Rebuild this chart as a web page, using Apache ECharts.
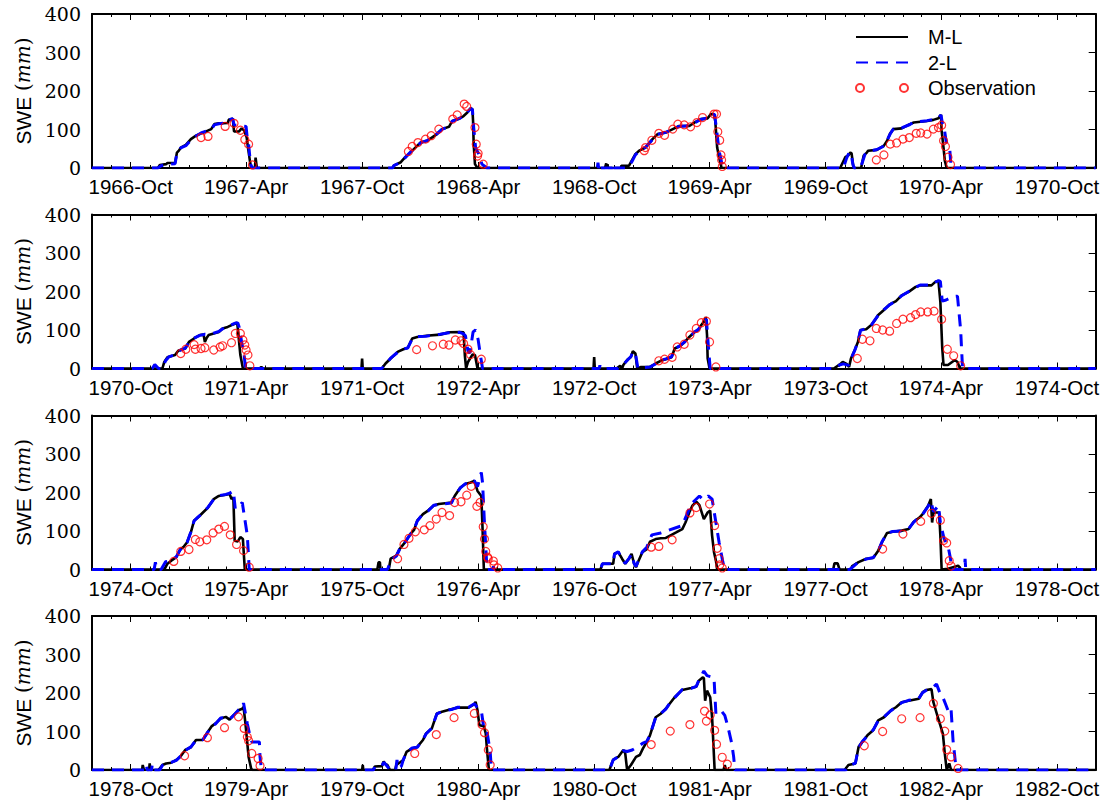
<!DOCTYPE html>
<html>
<head>
<meta charset="utf-8">
<script src="https://cdn.jsdelivr.net/npm/echarts@6/dist/echarts.min.js"></script>
<style>
  html, body { margin: 0; padding: 0; background: #fff; }
  #chart { width: 1106px; height: 803px; }
</style>
</head>
<body>
<div id="chart"></div>
<script>
// Snow water equivalent (mm), one water year per block.
// Each pair is [days after 1 October, SWE].

// --- 1966-67 ---
const ml1967 = [[43,0],[46,8],[56,10],[58,13],[70,13],[73,40],[76,45],[79,53],[87,60],[95,75],[103,84],[111,90],[119,95],[127,101],[132,114],[139,116],[153,117],[155,126],[161,128],[163,95],[171,95],[175,103],[179,97],[183,79],[185,53],[188,19],[190,0],[196,0],[197,27],[199,0]];
const tl1967 = [[43,0],[48,6],[56,9],[70,11],[72,30],[75,44],[79,52],[87,58],[95,73],[103,83],[111,91],[119,96],[127,100],[132,112],[139,115],[153,118],[155,125],[161,128],[163,112],[182,108],[184,75],[186,62],[189,10],[192,0]];
const obs1967 = [[111,79],[122,82],[149,108],[163,116],[173,98],[180,74],[186,62],[192,8]];

// --- 1967-68 ---
const ml1968 = [[48,0],[50,6],[61,15],[68,28],[76,40],[84,53],[92,66],[103,71],[110,79],[118,88],[126,101],[137,107],[142,122],[152,127],[160,135],[166,144],[171,155],[174,153],[175,122],[176,62],[178,10],[182,0]];
const tl1968 = [[48,0],[50,6],[61,15],[68,27],[76,41],[84,52],[92,65],[103,72],[110,78],[118,89],[126,100],[137,108],[142,121],[152,128],[160,134],[166,145],[171,154],[174,152],[176,105],[179,53],[184,36],[189,10],[197,0]];
const obs1968 = [[73,43],[79,56],[88,66],[100,75],[109,84],[121,101],[143,127],[150,138],[161,166],[165,160],[178,105],[180,62],[182,31],[183,38],[191,10]];

// --- 1968-69 ---
const ml1969 = [[17,0],[19,12],[20,0],[21,10],[22,0],[42,0],[43,6],[55,6],[58,15],[65,36],[71,45],[81,53],[92,75],[100,88],[113,92],[124,101],[134,109],[150,109],[158,118],[168,127],[179,129],[184,140],[189,140],[191,122],[194,53],[197,28],[201,0]];
const tl1969 = [[5,0],[6,14],[7,0],[9,12],[10,0],[29,0],[30,12],[31,0],[50,0],[56,8],[60,18],[65,34],[71,44],[81,54],[92,74],[100,87],[113,93],[124,100],[134,108],[150,110],[158,117],[168,126],[179,130],[184,139],[190,139],[193,100],[197,45],[203,0]];
const obs1969 = [[79,45],[81,53],[91,72],[102,90],[111,85],[124,101],[132,114],[142,112],[152,107],[162,118],[171,131],[189,140],[193,140],[195,94],[198,72],[200,34],[201,21],[202,4]];

// --- 1969-70 ---
const ml1970 = [[23,0],[31,28],[36,33],[39,40],[41,38],[44,0],[56,0],[60,32],[65,40],[67,45],[81,47],[92,58],[97,71],[102,90],[107,101],[120,103],[133,114],[139,118],[160,122],[170,125],[178,129],[182,138],[183,97],[186,53],[188,19],[191,0]];
const tl1970 = [[28,0],[33,25],[37,40],[40,40],[43,10],[45,0],[55,0],[58,15],[62,35],[66,42],[81,48],[92,57],[97,72],[102,89],[107,102],[120,104],[133,113],[139,119],[160,123],[170,126],[178,130],[182,138],[184,118],[187,105],[190,70],[196,45],[198,0]];
const obs1970 = [[80,21],[92,34],[102,62],[112,65],[122,75],[132,79],[143,90],[150,91],[160,88],[170,101],[178,105],[183,111],[186,71],[189,56],[193,28],[197,9]];

// --- 1970-71 ---
const ml1971 = [[50,0],[53,17],[58,29],[70,35],[75,46],[86,52],[92,69],[100,78],[109,87],[115,88],[117,69],[120,80],[123,87],[131,91],[139,95],[145,104],[153,108],[165,117],[168,119],[170,87],[173,35],[177,0],[203,0],[206,4],[209,0]];
const tl1971 = [[34,0],[38,10],[41,5],[44,0],[50,0],[55,20],[60,30],[70,36],[75,45],[86,53],[92,68],[100,79],[109,86],[117,89],[123,88],[131,92],[139,96],[145,103],[153,109],[165,118],[169,118],[171,108],[175,69],[179,35],[181,0]];
const obs1971 = [[79,39],[87,50],[100,62],[102,50],[111,52],[117,54],[131,48],[141,56],[145,59],[159,67],[165,91],[173,91],[177,74],[180,61],[182,48],[185,35],[188,7]];

// --- 1971-72 ---
const ml1972 = [[-1,0],[0,26],[1,0],[31,0],[37,13],[45,26],[56,43],[65,50],[72,54],[79,78],[87,82],[101,85],[123,88],[137,94],[154,95],[160,94],[162,35],[164,0],[167,17],[174,36],[178,35],[182,0]];
const tl1972 = [[31,0],[38,12],[45,27],[56,42],[65,51],[72,53],[79,77],[87,83],[101,84],[123,89],[137,93],[154,94],[160,90],[163,85],[167,45],[170,40],[175,95],[179,100],[183,75],[187,30],[190,0]];
const obs1972 = [[86,49],[111,59],[128,63],[137,61],[147,74],[156,72],[160,65],[167,50],[171,36],[188,24]];

// --- 1972-73 ---
const ml1973 = [[-1,0],[0,30],[1,0],[35,0],[41,7],[44,0],[46,9],[52,22],[58,30],[61,45],[65,39],[68,0],[74,4],[88,4],[97,13],[105,20],[113,24],[122,29],[127,52],[136,59],[143,69],[150,82],[158,94],[164,100],[169,113],[175,126],[176,134],[178,87],[179,26],[182,0]];
const tl1973 = [[8,0],[9,8],[10,0],[37,0],[42,6],[46,10],[52,21],[58,31],[61,44],[65,40],[69,0],[88,4],[97,12],[105,21],[113,25],[122,30],[127,51],[136,60],[143,70],[150,81],[158,95],[164,101],[169,112],[175,125],[177,128],[180,60],[183,0]];
const obs1973 = [[102,20],[111,24],[123,29],[131,56],[142,63],[151,87],[161,104],[169,119],[177,123],[182,69],[192,4]];

// --- 1973-74 ---
const ml1974 = [[13,0],[22,10],[27,17],[33,12],[37,4],[40,26],[46,48],[51,69],[55,100],[64,102],[72,113],[78,126],[83,139],[92,152],[100,165],[111,175],[120,190],[131,199],[142,212],[150,216],[167,216],[173,225],[178,227],[181,173],[184,52],[186,9],[193,9],[204,22],[208,17],[212,0]];
const tl1974 = [[15,0],[22,9],[28,12],[36,8],[40,24],[46,47],[51,70],[55,99],[64,103],[72,112],[78,127],[83,138],[92,153],[100,164],[111,176],[120,189],[131,200],[142,211],[150,217],[167,217],[173,224],[178,228],[181,226],[184,175],[190,178],[201,187],[208,188],[213,100],[216,0]];
const obs1974 = [[50,26],[58,76],[70,72],[80,104],[90,100],[101,97],[112,117],[122,128],[134,132],[142,140],[150,147],[161,147],[171,149],[183,128],[192,50],[202,33],[213,7]];

// --- 1974-75 ---
const ml1975 = [[53,0],[58,15],[64,23],[72,32],[78,52],[83,58],[89,71],[95,97],[100,127],[106,135],[114,148],[122,161],[131,183],[139,191],[150,194],[156,196],[159,183],[162,187],[164,75],[169,73],[173,84],[177,79],[180,0]];
const tl1975 = [[37,0],[39,19],[41,0],[48,0],[55,20],[64,24],[72,33],[78,51],[83,59],[89,70],[95,98],[100,126],[106,136],[114,147],[122,162],[131,182],[139,192],[150,195],[156,198],[162,204],[165,157],[176,174],[184,88],[187,0]];
const obs1975 = [[68,21],[79,47],[92,52],[102,78],[109,72],[120,77],[130,95],[139,105],[148,112],[157,90],[167,65],[178,49],[187,6]];

// --- 1975-76 ---
const ml1976 = [[24,0],[26,19],[28,19],[29,0],[42,0],[45,28],[54,36],[59,53],[68,71],[76,92],[82,103],[87,127],[96,144],[104,153],[113,166],[121,170],[141,174],[146,191],[155,213],[163,222],[171,226],[177,230],[182,204],[188,191],[190,105],[192,0]];
const tl1976 = [[40,0],[46,25],[54,35],[59,52],[68,72],[76,91],[82,104],[87,126],[96,145],[104,152],[113,167],[121,169],[141,173],[146,192],[155,212],[163,223],[171,225],[177,231],[182,215],[186,240],[188,252],[190,225],[193,120],[197,0],[206,0],[207,8],[208,0]];
const obs1976 = [[56,28],[66,65],[74,81],[84,98],[98,103],[107,114],[117,131],[126,148],[138,140],[146,174],[156,176],[165,193],[172,216],[181,164],[186,174],[191,111],[193,79],[195,47],[198,32],[199,28],[207,22],[208,12],[214,4]];

// --- 1976-77 ---
const ml1977 = [[10,0],[13,15],[30,15],[32,41],[38,45],[44,28],[49,15],[55,28],[59,41],[63,15],[66,6],[69,19],[76,45],[83,53],[88,72],[97,79],[105,81],[113,82],[122,90],[130,97],[139,105],[144,122],[150,148],[155,166],[161,176],[166,167],[173,131],[179,148],[183,153],[186,88],[189,45],[192,23],[194,0]];
const tl1977 = [[10,0],[13,15],[30,15],[32,40],[38,46],[44,27],[49,16],[55,29],[59,40],[63,16],[66,8],[69,20],[76,46],[83,58],[91,90],[105,95],[130,109],[139,114],[153,170],[166,191],[172,181],[180,191],[186,183],[192,122],[197,71],[203,19],[206,0]];
const obs1977 = [[90,58],[102,60],[123,77],[151,147],[161,161],[182,170],[190,114],[194,55],[197,28],[198,12],[202,4]];

// --- 1977-78 ---
const ml1978 = [[12,0],[14,16],[19,16],[22,0],[40,0],[42,9],[52,19],[64,28],[75,30],[83,49],[89,71],[97,95],[106,98],[120,101],[131,105],[139,124],[148,135],[153,144],[162,166],[166,183],[168,122],[170,148],[179,148],[181,88],[183,0],[193,2],[209,10],[214,0]];
const tl1978 = [[38,0],[44,8],[52,20],[64,27],[75,31],[83,48],[89,72],[97,94],[106,99],[120,100],[131,106],[139,123],[148,136],[153,143],[162,165],[166,178],[170,150],[178,166],[181,122],[187,79],[193,62],[197,28],[199,0],[219,0],[220,28],[221,0]];
const obs1978 = [[90,53],[122,92],[150,125],[167,146],[181,128],[186,75],[191,69],[195,23],[198,9]];

// --- 1978-79 ---
const ml1979 = [[18,0],[19,13],[21,0],[29,0],[30,17],[31,0],[44,0],[50,13],[56,17],[64,19],[72,26],[78,34],[86,52],[95,59],[103,78],[114,78],[120,95],[128,114],[134,121],[142,134],[150,138],[156,131],[162,142],[170,155],[176,159],[178,164],[181,121],[186,34],[190,4],[192,0]];
const tl1979 = [[24,0],[25,12],[26,0],[33,0],[34,14],[35,0],[46,0],[50,12],[56,18],[64,20],[72,25],[78,35],[86,51],[95,60],[103,77],[114,79],[120,94],[128,115],[134,120],[142,135],[150,137],[156,132],[162,141],[170,156],[176,160],[178,174],[184,120],[188,90],[191,73],[203,73],[204,34],[206,4],[207,0]];
const obs1979 = [[85,37],[121,84],[148,110],[170,138],[179,108],[184,86],[186,76],[191,43],[201,30],[204,11]];

// --- 1979-80 ---
const ml1980 = [[0,0],[1,13],[2,0],[17,0],[20,9],[31,10],[34,22],[37,15],[40,13],[44,0],[52,0],[54,13],[60,20],[65,26],[70,47],[79,56],[87,60],[96,78],[101,95],[110,108],[118,147],[126,151],[143,159],[151,162],[168,162],[177,171],[179,177],[182,155],[185,116],[192,114],[195,95],[197,52],[200,0]];
const tl1980 = [[18,0],[20,8],[31,9],[34,20],[38,13],[44,0],[53,0],[55,26],[57,5],[62,10],[65,27],[70,46],[79,57],[87,59],[96,79],[101,94],[110,109],[118,146],[126,152],[143,158],[151,163],[168,163],[177,172],[181,164],[188,155],[192,108],[197,100],[202,47],[204,0]];
const obs1980 = [[83,43],[117,92],[145,136],[177,147],[189,118],[193,97],[199,52],[202,13]];

// --- 1980-81 ---
const ml1981 = [[24,0],[30,27],[38,34],[46,52],[49,43],[52,0],[58,13],[66,34],[72,39],[77,56],[83,73],[88,90],[97,137],[105,146],[113,159],[119,172],[127,189],[139,208],[153,213],[161,216],[165,232],[171,240],[173,239],[175,180],[178,206],[183,189],[186,137],[190,0],[204,0],[206,13],[208,0]];
const tl1981 = [[24,0],[30,26],[38,35],[46,50],[52,48],[60,52],[70,62],[77,70],[83,74],[88,91],[97,136],[105,147],[113,158],[119,173],[127,188],[139,209],[153,212],[161,217],[165,233],[173,257],[178,245],[189,240],[192,146],[200,155],[206,142],[211,112],[217,69],[220,34],[222,0]];
const obs1981 = [[90,66],[120,101],[151,118],[174,153],[177,127],[183,143],[190,103],[193,67],[202,33],[210,15]];

// --- 1981-82 ---
const ml1982 = [[30,0],[36,13],[47,17],[52,60],[58,73],[66,90],[75,103],[83,129],[92,137],[103,155],[111,163],[120,176],[131,180],[147,185],[153,202],[159,208],[167,210],[170,176],[177,137],[181,116],[185,94],[188,43],[191,0],[195,17],[198,0]];
const tl1982 = [[32,0],[38,12],[47,18],[52,58],[58,74],[66,89],[75,104],[83,128],[92,138],[103,154],[111,164],[120,175],[131,181],[147,186],[153,201],[159,207],[167,211],[175,223],[181,197],[184,193],[189,172],[195,146],[198,155],[201,77],[206,0]];
const obs1982 = [[61,63],[90,100],[120,133],[149,136],[170,173],[181,133],[188,101],[191,53],[198,34],[209,4]];

// Water years in drawing order, four per row.
const waterYears = [1967,1968,1969,1970,1971,1972,1973,1974,1975,1976,1977,1978,1979,1980,1981,1982];
const mlByYear  = [ml1967,ml1968,ml1969,ml1970,ml1971,ml1972,ml1973,ml1974,ml1975,ml1976,ml1977,ml1978,ml1979,ml1980,ml1981,ml1982];
const tlByYear  = [tl1967,tl1968,tl1969,tl1970,tl1971,tl1972,tl1973,tl1974,tl1975,tl1976,tl1977,tl1978,tl1979,tl1980,tl1981,tl1982];
const obsByYear = [obs1967,obs1968,obs1969,obs1970,obs1971,obs1972,obs1973,obs1974,obs1975,obs1976,obs1977,obs1978,obs1979,obs1980,obs1981,obs1982];

const yTicks = [0, 100, 200, 300, 400];
const monthNames = ['Jan','Feb','Mar','Apr','May','Jun','Jul','Aug','Sep','Oct','Nov','Dec'];

// Day numbers counted from 1 Oct 1966.
const DAY = 86400000;
const EPOCH = Date.UTC(1966, 9, 1);
const dayNum = (y, m, d) => Math.round((Date.UTC(y, m - 1, d) - EPOCH) / DAY);
const dayLabel = v => {
  const dt = new Date(EPOCH + Math.round(v) * DAY);
  return dt.getUTCFullYear() + '-' + monthNames[dt.getUTCMonth()];
};

const panelTops = [14, 214.5, 415.5, 616];
const PANEL_H = 154;

const grids = [], xAxes = [], yAxes = [], series = [];

panelTops.forEach((top, p) => {
  const y0 = 1966 + 4 * p;
  const xmin = dayNum(y0, 8, 1);
  const xmax = dayNum(y0 + 4, 12, 1);

  const monthTicks = [];
  for (let y = y0, m = 8; dayNum(y, m, 1) <= xmax; ) {
    monthTicks.push(dayNum(y, m, 1));
    m++; if (m > 12) { m = 1; y++; }
  }
  const halfYearTicks = monthTicks.filter(v => {
    const mo = new Date(EPOCH + v * DAY).getUTCMonth();
    return mo === 9 || mo === 3;
  });

  grids.push({ left: 92, right: 10.3, top: top, height: PANEL_H });

  const baseX = {
    type: 'value', gridIndex: p, min: xmin, max: xmax,
    splitLine: { show: false }
  };
  // bottom: frame line, monthly ticks and labels
  xAxes.push(Object.assign({}, baseX, {
    position: 'bottom',
    axisLine: { show: true, onZero: false, lineStyle: { color: '#000', width: 2 } },
    axisTick: { show: true, inside: true, length: 3, customValues: monthTicks, lineStyle: { color: '#000', width: 1 } },
    axisLabel: { show: true, customValues: halfYearTicks, formatter: dayLabel, margin: 8,
                 fontFamily: 'Liberation Sans', fontSize: 20.5, color: '#000' }
  }));
  // bottom: longer half-year ticks
  xAxes.push(Object.assign({}, baseX, {
    position: 'bottom',
    axisLine: { show: false, onZero: false },
    axisTick: { show: true, inside: true, length: 6, customValues: halfYearTicks, lineStyle: { color: '#000', width: 1 } },
    axisLabel: { show: false }
  }));
  // top frame with the same ticks
  xAxes.push(Object.assign({}, baseX, {
    position: 'top',
    axisLine: { show: true, onZero: false, lineStyle: { color: '#000', width: 2 } },
    axisTick: { show: true, inside: true, length: 3, customValues: monthTicks, lineStyle: { color: '#000', width: 1 } },
    axisLabel: { show: false }
  }));
  xAxes.push(Object.assign({}, baseX, {
    position: 'top',
    axisLine: { show: false, onZero: false },
    axisTick: { show: true, inside: true, length: 6, customValues: halfYearTicks, lineStyle: { color: '#000', width: 1 } },
    axisLabel: { show: false }
  }));

  yAxes.push({
    type: 'value', gridIndex: p, position: 'left', min: yTicks[0], max: yTicks[yTicks.length - 1], interval: 100,
    axisLine: { show: true, onZero: false, lineStyle: { color: '#000', width: 2 } },
    axisTick: { show: false },
    axisLabel: { fontFamily: 'DejaVu Serif', fontSize: 19, color: '#000', margin: 11 },
    splitLine: { show: false },
    name: '{s|SWE }{p|(}{i|mm}{p|)}',
    nameLocation: 'middle', nameRotate: 90, nameGap: 56,
    nameTextStyle: {
      rich: {
        s: { fontFamily: 'Liberation Sans', fontSize: 21, color: '#000' },
        p: { fontFamily: 'DejaVu Serif', fontSize: 20, color: '#000' },
        i: { fontFamily: 'DejaVu Serif', fontStyle: 'italic', fontSize: 20, color: '#000' }
      }
    }
  });
  yAxes.push({
    type: 'value', gridIndex: p, position: 'right', min: yTicks[0], max: yTicks[yTicks.length - 1], interval: 100,
    axisLine: { show: true, onZero: false, lineStyle: { color: '#000', width: 2 } },
    axisTick: { show: true, inside: true, length: 7, lineStyle: { color: '#000', width: 1 } },
    axisLabel: { show: false },
    splitLine: { show: false }
  });

  const ml = [[xmin, 0]], tl = [[xmin, 0]], obs = [];
  for (let k = 0; k < 4; k++) {
    const idx = p * 4 + k;
    const base = dayNum(waterYears[idx] - 1, 10, 1);
    mlByYear[idx].forEach(([d, v]) => ml.push([base + d, v]));
    tlByYear[idx].forEach(([d, v]) => tl.push([base + d, v]));
    obsByYear[idx].forEach(([d, v]) => obs.push([base + d, v]));
  }
  ml.push([xmax, 0]); tl.push([xmax, 0]);

  // lines carry no point markers, so their item colour is left transparent
  series.push({
    type: 'line', name: 'M-L', xAxisIndex: p * 4, yAxisIndex: p * 2, data: ml,
    symbol: 'none', showSymbol: false, z: 3,
    lineStyle: { color: '#000', width: 2.6 },
    itemStyle: { color: 'rgba(0,0,0,0)', borderWidth: 0 }
  });
  series.push({
    type: 'line', name: '2-L', xAxisIndex: p * 4, yAxisIndex: p * 2, data: tl,
    symbol: 'none', showSymbol: false, z: 4,
    lineStyle: { color: '#0000ff', width: 3, type: [12, 8] },
    itemStyle: { color: 'rgba(0,0,0,0)', borderWidth: 0 }
  });
  series.push({
    type: 'scatter', name: 'Observation', xAxisIndex: p * 4, yAxisIndex: p * 2, data: obs,
    symbol: 'circle', symbolSize: 8, z: 5,
    itemStyle: { color: 'rgba(0,0,0,0)', borderColor: '#ff0000', borderWidth: 1.2 }
  });
});

const chart = echarts.init(document.getElementById('chart'), null, { renderer: 'svg' });
chart.setOption({
  animation: false,
  backgroundColor: '#fff',
  grid: grids,
  xAxis: xAxes,
  yAxis: yAxes,
  legend: {
    orient: 'vertical', left: 855, top: 27, padding: 0,
    itemWidth: 52, itemHeight: 14, itemGap: 5.5, selectedMode: false,
    textStyle: { fontFamily: 'Liberation Sans', fontSize: 20, color: '#000', padding: [0, 0, 0, 15] },
    data: [
      'M-L',
      '2-L',
      { name: 'Observation', icon: 'path://M0,4a4,4 0 1,0 8,0a4,4 0 1,0 -8,0M44,4a4,4 0 1,0 8,0a4,4 0 1,0 -8,0' }
    ]
  },
  series: series
});
</script>
</body>
</html>
